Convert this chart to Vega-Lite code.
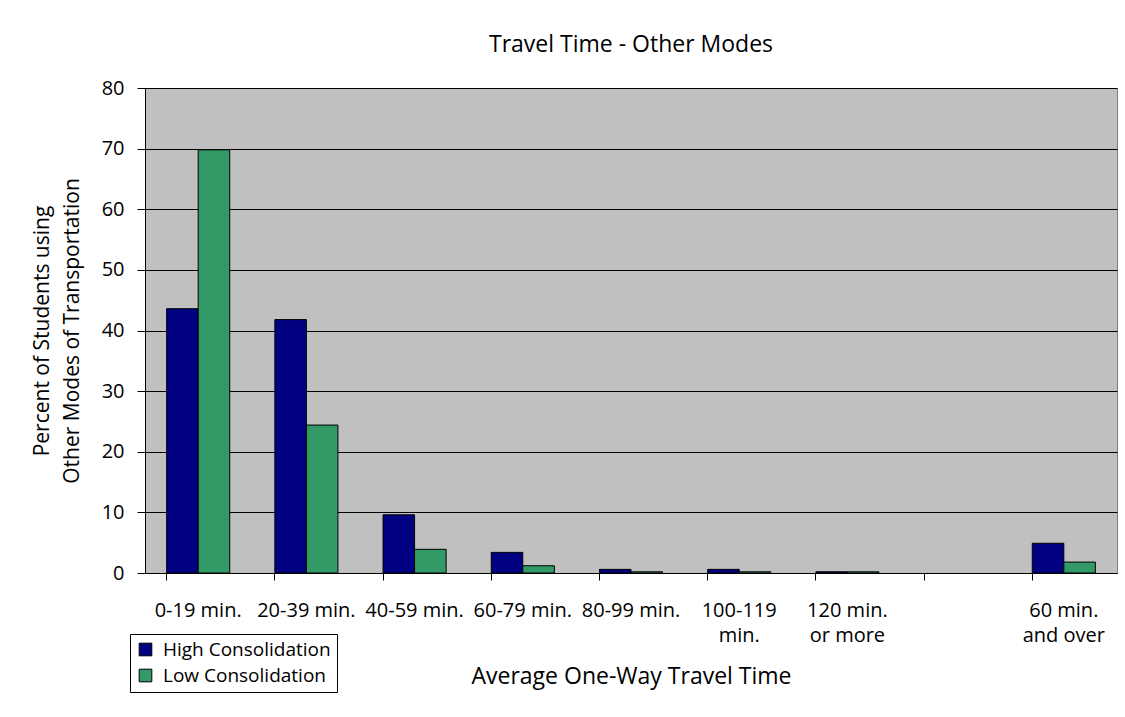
{
  "$schema": "https://vega.github.io/schema/vega-lite/v6.json",
  "autosize": {"type": "none"},
  "width": 972,
  "height": 485,
  "padding": {"left": 145, "top": 88, "right": 8, "bottom": 144},
  "background": "white",
  "title": {"text": "Travel Time - Other Modes", "font": "Open Sans", "fontSize": 23, "fontWeight": "normal", "color": "black", "offset": 21},
  "data": {"values": [
    {"cat": "0-19 min.", "series": "High Consolidation", "pct": 43.6},
    {"cat": "0-19 min.", "series": "Low Consolidation", "pct": 69.8},
    {"cat": "20-39 min.", "series": "High Consolidation", "pct": 41.8},
    {"cat": "20-39 min.", "series": "Low Consolidation", "pct": 24.4},
    {"cat": "40-59 min.", "series": "High Consolidation", "pct": 9.6},
    {"cat": "40-59 min.", "series": "Low Consolidation", "pct": 3.9},
    {"cat": "60-79 min.", "series": "High Consolidation", "pct": 3.4},
    {"cat": "60-79 min.", "series": "Low Consolidation", "pct": 1.2},
    {"cat": "80-99 min.", "series": "High Consolidation", "pct": 0.6},
    {"cat": "80-99 min.", "series": "Low Consolidation", "pct": 0.2},
    {"cat": "100-119|min.", "series": "High Consolidation", "pct": 0.6},
    {"cat": "100-119|min.", "series": "Low Consolidation", "pct": 0.2},
    {"cat": "120 min.|or more", "series": "High Consolidation", "pct": 0.2},
    {"cat": "120 min.|or more", "series": "Low Consolidation", "pct": 0.2},
    {"cat": "60 min.|and over", "series": "High Consolidation", "pct": 4.9},
    {"cat": "60 min.|and over", "series": "Low Consolidation", "pct": 1.8}
  ]},
  "mark": {"type": "bar", "stroke": "black", "strokeWidth": 1},
  "encoding": {
    "x": {
      "field": "cat", "type": "nominal",
      "scale": {"domain": ["0-19 min.", "20-39 min.", "40-59 min.", "60-79 min.", "80-99 min.", "100-119|min.", "120 min.|or more", " ", "60 min.|and over"], "paddingInner": 0.417, "paddingOuter": 0.2},
      "axis": {
        "title": "Average One-Way Travel Time",
        "labelAngle": 0,
        "labelExpr": "split(datum.value, '|')",
        "labelFont": "Open Sans", "labelFontSize": 20, "labelColor": "black",
        "labelLineHeight": 25, "labelPadding": 20,
        "titleFont": "Open Sans", "titleFontSize": 23, "titleFontWeight": "normal", "titleColor": "black",
        "titlePadding": 20,
        "bandPosition": 0,
        "tickColor": "black", "tickSize": 7, "domainColor": "black",
        "grid": false
      }
    },
    "xOffset": {"field": "series", "type": "nominal"},
    "y": {
      "field": "pct", "type": "quantitative",
      "scale": {"domain": [0, 80]},
      "axis": {
        "title": ["Percent of Students using", "Other Modes of Transportation"],
        "values": [0, 10, 20, 30, 40, 50, 60, 70, 80],
        "labelFont": "Open Sans", "labelFontSize": 20, "labelColor": "black", "labelPadding": 13,
        "titleFont": "Open Sans", "titleFontSize": 21, "titleFontWeight": "normal", "titleColor": "black",
        "titlePadding": 19, "titleLineHeight": 30,
        "tickColor": "black", "tickSize": 8, "domainColor": "black",
        "grid": true, "gridColor": "black", "gridWidth": 1, "gridOpacity": 1
      }
    },
    "color": {
      "field": "series", "type": "nominal",
      "scale": {"domain": ["High Consolidation", "Low Consolidation"], "range": ["#000080", "#339966"]},
      "legend": {
        "title": null, "orient": "none", "legendX": -15, "legendY": 546,
        "direction": "vertical",
        "labelFont": "Open Sans", "labelFontSize": 19, "labelColor": "black", "labelLimit": 400,
        "symbolType": "square", "symbolSize": 160, "symbolStrokeColor": "black", "symbolStrokeWidth": 1, "symbolOpacity": 1,
        "strokeColor": "black", "fillColor": "white", "padding": 6, "rowPadding": 6, "labelOffset": 8
      }
    }
  },
  "config": {
    "view": {"fill": "#C0C0C0", "stroke": "#808080", "strokeWidth": 1},
    "axis": {"domainWidth": 1, "tickWidth": 1}
  }
}
